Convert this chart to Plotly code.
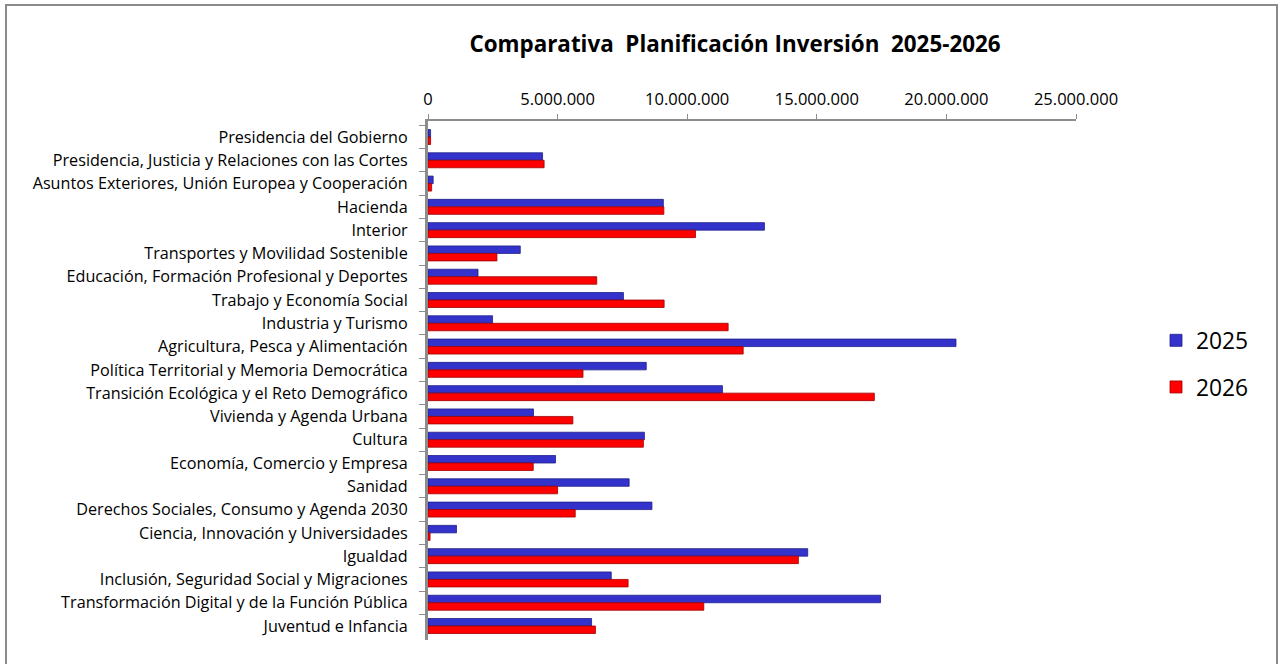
import plotly.graph_objects as go

# Ministries, listed top to bottom
ministerios = [
    "Presidencia del Gobierno",
    "Presidencia, Justicia y Relaciones con las Cortes",
    "Asuntos Exteriores, Unión Europea y Cooperación",
    "Hacienda",
    "Interior",
    "Transportes y Movilidad Sostenible",
    "Educación, Formación Profesional y Deportes",
    "Trabajo y Economía Social",
    "Industria y Turismo",
    "Agricultura, Pesca y Alimentación",
    "Política Territorial y Memoria Democrática",
    "Transición Ecológica y el Reto Demográfico",
    "Vivienda y Agenda Urbana",
    "Cultura",
    "Economía, Comercio y Empresa",
    "Sanidad",
    "Derechos Sociales, Consumo y Agenda 2030",
    "Ciencia, Innovación y Universidades",
    "Igualdad",
    "Inclusión, Seguridad Social y Migraciones",
    "Transformación Digital y de la Función Pública",
    "Juventud e Infancia",
]

# Planned investment (euros)
inversion_2025 = [
    100000, 4420000, 200000, 9080000, 12980000, 3560000, 1930000, 7540000,
    2490000, 20370000, 8420000, 11360000, 4070000, 8350000, 4920000, 7760000,
    8640000, 1100000, 14650000, 7070000, 17460000, 6310000,
]
inversion_2026 = [
    100000, 4480000, 140000, 9100000, 10320000, 2660000, 6510000, 9110000,
    11580000, 12160000, 5980000, 17220000, 5590000, 8310000, 4060000, 5000000,
    5680000, 80000, 14290000, 7720000, 10640000, 6460000,
]

series_names = ["2025", "2026"]
axis_ticks = [0, 5000000, 10000000, 15000000, 20000000, 25000000]

FONT = "Open Sans"
W, H = 1282, 664
L, R, T, B = 428, 206, 121, 24
PW, PH = W - L - R, H - T - B

fig = go.Figure()
fig.add_trace(go.Bar(
    y=ministerios, x=inversion_2025, name=series_names[0], orientation="h",
    marker=dict(color="#3333CC", line=dict(color="#20208a", width=0.8)),
    legendgroup="a",
))
fig.add_trace(go.Bar(
    y=ministerios, x=inversion_2026, name=series_names[1], orientation="h",
    marker=dict(color="#FF0000", line=dict(color="#a00000", width=0.8)),
    legendgroup="b",
))

n = len(ministerios)
fig.update_layout(
    width=W, height=H,
    margin=dict(l=L, r=R, t=T, b=B),
    paper_bgcolor="white", plot_bgcolor="white",
    separators=",.",
    barmode="group", bargap=0.356, bargroupgap=0,
    font=dict(family=FONT, color="black"),
    title=dict(
        text="<b>Comparativa\u00a0 Planificación Inversión\u00a0 2025-2026</b>",
        x=(735 - L) / PW, xref="paper", xanchor="center",
        y=1 - 44 / H, yanchor="middle",
        font=dict(family=FONT, size=22.4, color="black"),
    ),
    xaxis=dict(
        range=[0, 25000000], side="top",
        tickvals=axis_ticks, tickformat=",d",
        showline=True, linecolor="#8c8c8c", linewidth=2,
        ticks="outside", ticklen=5, tickcolor="#8c8c8c", tickwidth=1,
        showgrid=False, zeroline=False, fixedrange=True,
        ticklabelstandoff=2,
        tickfont=dict(family=FONT, size=16.5, color="black"),
    ),
    yaxis=dict(
        type="category", categoryorder="array", categoryarray=ministerios,
        range=[n - 1 + 0.601, -0.687],
        showline=True, linecolor="#8c8c8c", linewidth=3,
        ticks="outside", ticklen=6, tickcolor="#8c8c8c", tickson="boundaries",
        showgrid=False, zeroline=False, ticklabelstandoff=14,
        tickfont=dict(family=FONT, size=16.2, color="black"),
    ),
    legend=dict(
        x=(1156 - L) / PW, xanchor="left", y=1 - (319 - T) / PH, yanchor="top",
        font=dict(family=FONT, size=22.8, color="black"),
        tracegroupgap=14, bgcolor="rgba(0,0,0,0)",
    ),
    shapes=[dict(
        type="rect", xref="paper", yref="paper",
        x0=(6 - L) / PW, x1=(1277 - L) / PW,
        y0=1 + (T - 668) / PH, y1=1 + (T - 5) / PH,
        line=dict(color="#8a8a8a", width=2), fillcolor="rgba(0,0,0,0)",
        layer="below",
    )],
)

fig.write_html("out.html")
